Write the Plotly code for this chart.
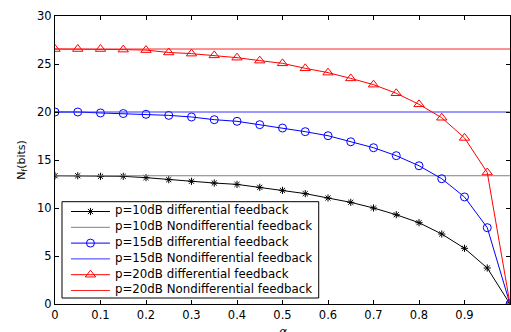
import plotly.graph_objects as go

alpha = [0, 0.05, 0.1, 0.15, 0.2, 0.25, 0.3, 0.35, 0.4, 0.45, 0.5,
         0.55, 0.6, 0.65, 0.7, 0.75, 0.8, 0.85, 0.9, 0.95, 1.0]

diff_10dB = [13.36, 13.36, 13.3, 13.3, 13.16, 12.95, 12.78, 12.6, 12.46, 12.15, 11.84,
             11.5, 11.04, 10.59, 10.0, 9.3, 8.47, 7.29, 5.8, 3.75, 0.0]
diff_15dB = [20.0, 20.0, 19.9, 19.84, 19.76, 19.65, 19.48, 19.2, 19.03, 18.68, 18.33,
             17.95, 17.53, 16.9, 16.28, 15.45, 14.4, 13.05, 11.15, 7.95, 0.0]
diff_20dB = [26.56, 26.56, 26.56, 26.5, 26.45, 26.2, 26.08, 25.9, 25.66, 25.35, 25.07,
             24.55, 24.1, 23.5, 22.85, 21.95, 20.8, 19.4, 17.3, 13.7, 0.0]

nondiff_10dB = 13.36
nondiff_15dB = 20.0
nondiff_20dB = 26.56

x_ticks = [0, 0.1, 0.2, 0.3, 0.4, 0.5, 0.6, 0.7, 0.8, 0.9, 1]
x_ticklabels = ["0", "0.1", "0.2", "0.3", "0.4", "0.5", "0.6", "0.7", "0.8", "0.9", "1"]
y_ticks = [0, 5, 10, 15, 20, 25, 30]

legend_labels = ["p=10dB differential feedback",
                 "p=10dB Nondifferential feedback",
                 "p=15dB differential feedback",
                 "p=15dB Nondifferential feedback",
                 "p=20dB differential feedback",
                 "p=20dB Nondifferential feedback"]

FONT = "DejaVu Sans, Verdana, sans-serif"

styles = [
    dict(line=dict(color="black", width=1),
         marker=dict(symbol="asterisk-open", size=6, color="black",
                     line=dict(color="black", width=1)), mode="lines+markers"),
    dict(line=dict(color="#808080", width=1), mode="lines"),
    dict(line=dict(color="#0000ff", width=1),
         marker=dict(symbol="circle-open", size=8, color="#0000ff",
                     line=dict(color="#0000ff", width=1)), mode="lines+markers"),
    dict(line=dict(color="#3333ff", width=1), mode="lines"),
    dict(line=dict(color="#ff0000", width=1),
         marker=dict(symbol="triangle-up-open", size=9, color="#ff0000",
                     line=dict(color="#ff0000", width=1)), mode="lines+markers"),
    dict(line=dict(color="#ff2222", width=1), mode="lines"),
]

series_y = [diff_10dB, [nondiff_10dB, nondiff_10dB], diff_15dB,
            [nondiff_15dB, nondiff_15dB], diff_20dB, [nondiff_20dB, nondiff_20dB]]
series_x = [alpha, [alpha[0], alpha[-1]], alpha,
            [alpha[0], alpha[-1]], alpha, [alpha[0], alpha[-1]]]

fig = go.Figure()
for name, xs, ys, st in zip(legend_labels, series_x, series_y, styles):
    fig.add_trace(go.Scatter(x=xs, y=ys, name=name, showlegend=False, **st))

# Hand-built legend (MATLAB style, compact rows) on an overlay axis in pixel units
px_left, px_right, px_top, px_bottom = 55, 510.5, 16, 304
box_l, box_r, box_t, box_b = 62, 319, 201.7, 298
row0, row_step = 211.5, 15.8
samp_l, samp_r, text_x = 71, 110, 115

fig.add_trace(go.Scatter(x=[box_l, box_r, box_r, box_l, box_l],
                         y=[box_t, box_t, box_b, box_b, box_t],
                         xaxis="x2", yaxis="y2", mode="lines", fill="toself",
                         fillcolor="white", line=dict(color="black", width=1),
                         showlegend=False, hoverinfo="skip"))
row_y = [row0 + row_step * i for i in range(len(legend_labels))]
for yy, st in zip(row_y, styles):
    fig.add_trace(go.Scatter(x=[samp_l, samp_r], y=[yy, yy], xaxis="x2", yaxis="y2",
                             mode="lines", line=st["line"], showlegend=False,
                             hoverinfo="skip"))
    if "marker" in st:
        fig.add_trace(go.Scatter(x=[(samp_l + samp_r) / 2], y=[yy], xaxis="x2", yaxis="y2",
                                 mode="markers", marker=st["marker"], showlegend=False,
                                 hoverinfo="skip"))
fig.add_trace(go.Scatter(x=[text_x] * len(legend_labels), y=row_y, xaxis="x2", yaxis="y2",
                         mode="text", text=legend_labels, textposition="middle right",
                         textfont=dict(family=FONT, size=11.8, color="black"),
                         showlegend=False, hoverinfo="skip", cliponaxis=False))

# x-axis title (alpha), placed just below the tick labels and partly cut off as in the source
fig.add_annotation(text="<i>α</i>", xref="paper", yref="paper", x=0.5, y=0,
                   xanchor="center", yanchor="top", yshift=-19, showarrow=False,
                   font=dict(family=FONT, size=12, color="black"))

fig.update_layout(
    width=511, height=332,
    margin=dict(l=55, r=1, t=16, b=28, autoexpand=False),
    paper_bgcolor="white", plot_bgcolor="white",
    font=dict(family=FONT, size=11.5, color="black"),
    showlegend=False,
    xaxis=dict(range=[0, 1], tickvals=x_ticks, ticktext=x_ticklabels,
               showgrid=False, zeroline=False, showline=True, linecolor="black",
               linewidth=1, mirror="ticks", ticks="inside", ticklen=4,
               tickcolor="black", automargin=False),
    yaxis=dict(range=[0, 30], tickvals=y_ticks,
               showgrid=False, zeroline=False, showline=True, linecolor="black",
               linewidth=1, mirror="ticks", ticks="inside", ticklen=4,
               tickcolor="black", automargin=False,
               title=dict(text="N<sub>f</sub>(bits)", standoff=9, font=dict(size=11))),
    xaxis2=dict(overlaying="x", range=[px_left, px_right], visible=False, fixedrange=True),
    yaxis2=dict(overlaying="y", range=[px_bottom, px_top], visible=False, fixedrange=True),
)

fig.write_html("out.html", config={"displayModeBar": False},
               post_script="document.body.style.margin='0';document.body.style.overflow='hidden';")
